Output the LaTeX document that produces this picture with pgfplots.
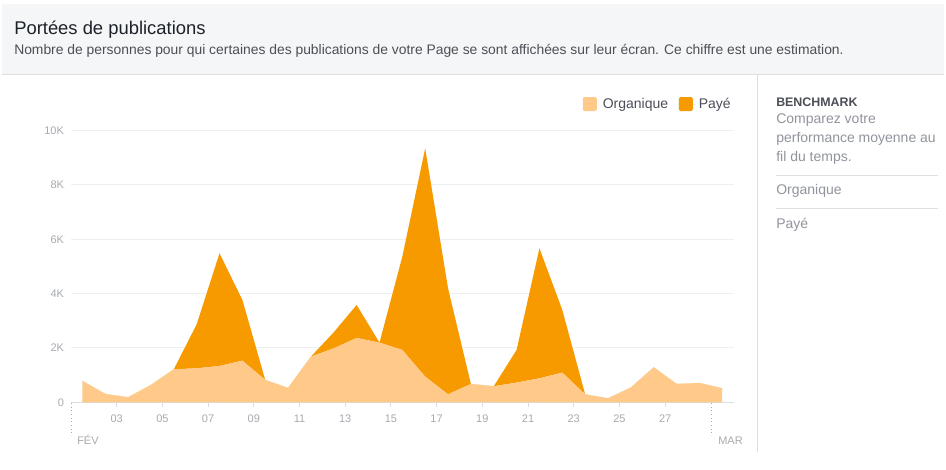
\documentclass[border=0pt]{standalone}
\usepackage{fontspec}
\setmainfont{Liberation Sans}
\usepackage{pgfplots}
\pgfplotsset{compat=1.18}
\definecolor{orgc}{HTML}{FFC98A}
\definecolor{paidc}{HTML}{F79A00}
\definecolor{gridc}{HTML}{EDEFF1}
\definecolor{axisc}{HTML}{DADDE1}
\definecolor{tickc}{HTML}{A7AAB0}
\definecolor{titlec}{HTML}{1D2129}
\definecolor{subc}{HTML}{4B4F56}
\definecolor{grayc}{HTML}{90949C}
\definecolor{headc}{HTML}{F5F6F7}
\definecolor{linec}{HTML}{DDDFE2}

\pgfplotstableread{
x org paid
1.5 785 0
2.5 307 0
3.5 184 0
4.5 638 0
5.5 1215 0
6.5 1250 1621
7.5 1337 4148
8.5 1534 2233
9.5 822 0
10.5 528 0
11.5 1681 0
12.5 1988 589
13.5 2368 1215
14.5 2196 0
15.5 1926 3436
16.5 945 8405
17.5 294 3902
18.5 675 0
19.5 589 0
20.5 724 1202
21.5 883 4786
22.5 1092 2307
23.5 294 0
24.5 147 0
25.5 540 0
26.5 1288 0
27.5 675 0
28.5 712 0
29.5 515 0
}\reach

\begin{document}
\begin{tikzpicture}
\begin{scope}[x=0.75pt,y=-0.75pt]
\fill[white] (0,0) rectangle (946,470);
\fill[headc] (2,4) rectangle (944,74);
\draw[linec, line width=0.75pt] (2,74.5) -- (944,74.5);
\draw[linec, line width=0.75pt] (757,75) -- (757,452);
\node[anchor=base west, inner sep=0, text=titlec, font=\fontsize{13.8}{16}\selectfont] at (14,35) {Portées de publications};
\node[anchor=base west, inner sep=0, text=subc, font=\fontsize{10.4}{12}\selectfont] at (14,55) {Nombre de personnes pour qui certaines des publications de votre Page se sont affichées sur leur écran. Ce chiffre est une estimation.};
\node[anchor=base west, inner sep=0, text=subc, font=\bfseries\fontsize{9.3}{11}\selectfont] at (776,107) {BENCHMARK};
\node[anchor=base west, inner sep=0, text=grayc, font=\fontsize{10.5}{12}\selectfont] at (776,124) {Comparez votre};
\node[anchor=base west, inner sep=0, text=grayc, font=\fontsize{10.5}{12}\selectfont] at (776,143) {performance moyenne au};
\node[anchor=base west, inner sep=0, text=grayc, font=\fontsize{10.5}{12}\selectfont] at (776,162) {fil du temps.};
\draw[linec, line width=0.75pt] (776,176) -- (938,176);
\node[anchor=base west, inner sep=0, text=grayc, font=\fontsize{10.5}{12}\selectfont] at (776,195) {Organique};
\draw[linec, line width=0.75pt] (776,209) -- (938,209);
\node[anchor=base west, inner sep=0, text=grayc, font=\fontsize{10.5}{12}\selectfont] at (776,229) {Payé};
\draw[tickc, dotted, line width=0.75pt] (71.7,403) -- (71.7,436);
\draw[tickc, dotted, line width=0.75pt] (711.7,403) -- (711.7,436);
\node[anchor=base west, inner sep=0, text=tickc, font=\fontsize{8.25}{10}\selectfont] at (77,444) {FÉV};
\node[anchor=base west, inner sep=0, text=tickc, font=\fontsize{8.25}{10}\selectfont] at (718,444) {MAR};
\end{scope}
\begin{axis}[
  at={(53.25pt,-301.7pt)}, anchor=south west,
  scale only axis, width=497pt, height=203.7pt,
  xmin=1, xmax=30, ymin=0, ymax=10000,
  xtick={3,5,...,27},
  xticklabels={03,05,07,09,11,13,15,17,19,21,23,25,27},
  ytick={0,2000,4000,6000,8000,10000},
  yticklabels={0,2K,4K,6K,8K,10K},
  scaled y ticks=false,
  /pgf/number format/assume math mode=true,
  ymajorgrids, grid style={draw=gridc, line width=0.75pt},
  axis x line*=bottom, axis y line*=left,
  x axis line style={-, draw=axisc, line width=0.75pt},
  y axis line style={draw=none},
  ytick style={draw=none},
  xtick style={draw=axisc, line width=0.75pt},
  tick align=outside, major tick length=3.75pt,
  tick label style={font=\fontsize{8.25}{10}\selectfont, text=tickc},
  xticklabel style={yshift=-2.5pt},
  yticklabel style={xshift=2pt},
  stack plots=y,
  legend style={at={(1,1.098)}, anchor=east, draw=none, fill=none, inner sep=0pt,
    legend columns=2, font=\fontsize{10.5}{12}\selectfont, text=subc,
    /tikz/every even column/.append style={column sep=6pt}},
  legend image code/.code={\fill[#1, rounded corners=1.5pt] (0pt,-5.25pt) rectangle (10.5pt,5.25pt); \path (0pt,0pt) -- (13pt,0pt);},
]
\addplot[fill=orgc, draw=none] table[x=x, y=org] {\reach} \closedcycle;
\addlegendentry{Organique}
\addplot[fill=paidc, draw=none] table[x=x, y=paid] {\reach} \closedcycle;
\addlegendentry{Payé}
\end{axis}
\end{tikzpicture}
\end{document}
